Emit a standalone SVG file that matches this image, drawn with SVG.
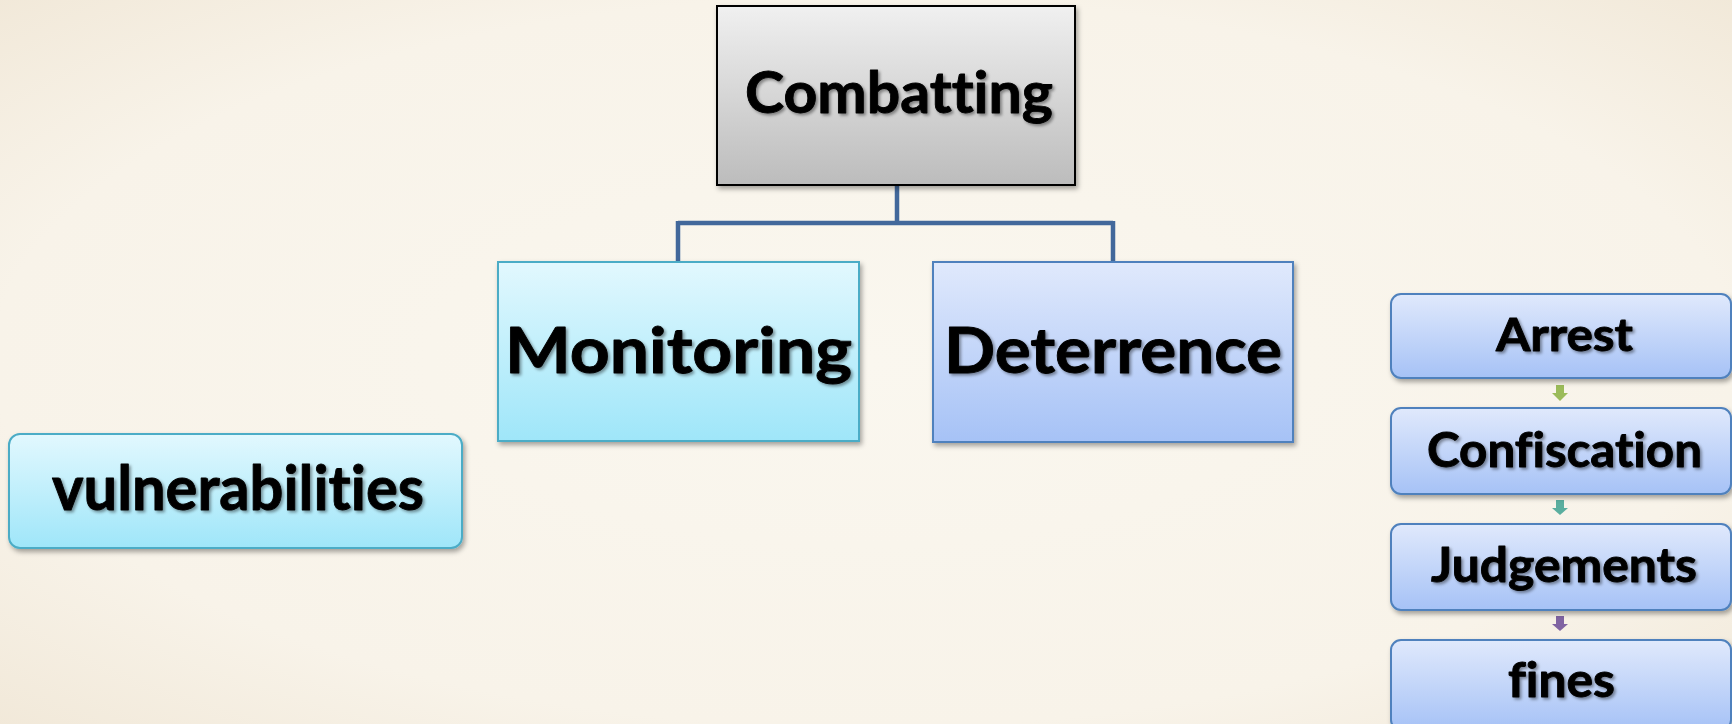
<svg xmlns="http://www.w3.org/2000/svg" width="1732" height="724" viewBox="0 0 1732 724">
<defs>
<radialGradient id="bg" cx="0.5" cy="0.5" r="0.72">
<stop offset="0" stop-color="#faf7ef"/>
<stop offset="0.7" stop-color="#f8f3e9"/>
<stop offset="1" stop-color="#f1e8d8"/>
</radialGradient>
<linearGradient id="gGrey" x1="0" y1="0" x2="0" y2="1">
<stop offset="0" stop-color="#f0f0f0"/>
<stop offset="1" stop-color="#bcbcbc"/>
</linearGradient>
<linearGradient id="gCyan" x1="0" y1="0" x2="0" y2="1">
<stop offset="0" stop-color="#e2f8fe"/>
<stop offset="1" stop-color="#9fe6f9"/>
</linearGradient>
<linearGradient id="gBlue" x1="0" y1="0" x2="0" y2="1">
<stop offset="0" stop-color="#e0e9fc"/>
<stop offset="1" stop-color="#a6c2f6"/>
</linearGradient>
<filter id="boxShadow" x="-10%" y="-10%" width="125%" height="130%">
<feDropShadow dx="2" dy="3" stdDeviation="2.5" flood-color="#000" flood-opacity="0.35"/>
</filter>
<filter id="txtShadow" x="-5%" y="-10%" width="115%" height="130%">
<feDropShadow dx="2" dy="2" stdDeviation="1.5" flood-color="#000" flood-opacity="0.4"/>
</filter>
</defs>
<style>
.lbl{font-family:Lato,"Liberation Sans",sans-serif;font-weight:700;fill:#000;stroke:#000;stroke-width:0.9;stroke-linejoin:round;text-anchor:middle;font-variant-ligatures:none;font-feature-settings:"liga" 0,"clig" 0;filter:url(#txtShadow)}
.grey{fill:url(#gGrey);stroke:#000;stroke-width:2;filter:url(#boxShadow)}
.cyan{fill:url(#gCyan);stroke:#4bacc6;stroke-width:2;filter:url(#boxShadow)}
.blue{fill:url(#gBlue);stroke:#4f81bd;stroke-width:2;filter:url(#boxShadow)}
.conn{fill:none;stroke:#42689b;stroke-width:4.5}
</style>
<rect x="0" y="0" width="1732" height="724" fill="url(#bg)"/>

<g id="connectors">
<path class="conn" d="M897 185 V223 M678 223 H1113 M678 221 V262 M1113 221 V262"/>
<g id="arrow-arrest-confiscation" fill="#9bbb59">
<rect x="1556" y="385" width="8" height="8"/>
<polygon points="1552,393 1568,393 1560,401"/>
</g>
<g id="arrow-confiscation-judgements" fill="#5aae9f">
<rect x="1556" y="500" width="8" height="8"/>
<polygon points="1552,508 1568,508 1560,515"/>
</g>
<g id="arrow-judgements-fines" fill="#8064a2">
<rect x="1556" y="616" width="8" height="8"/>
<polygon points="1552,624 1568,624 1560,631"/>
</g>
</g>

<g id="node-combatting">
<rect class="grey" x="717" y="6" width="358" height="179"/>
<text class="lbl" x="899" y="113" font-size="58" textLength="308" lengthAdjust="spacingAndGlyphs">Combatting</text>
</g>

<g id="node-monitoring">
<rect class="cyan" x="498" y="262" width="361" height="179"/>
<text class="lbl" x="678.5" y="373" font-size="64" textLength="347" lengthAdjust="spacingAndGlyphs">Monitoring</text>
</g>

<g id="node-deterrence">
<rect class="blue" x="933" y="262" width="360" height="180"/>
<text class="lbl" x="1113" y="373" font-size="64" textLength="338" lengthAdjust="spacingAndGlyphs">Deterrence</text>
</g>

<g id="node-vulnerabilities">
<rect class="cyan" x="9" y="434" width="453" height="114" rx="11"/>
<text class="lbl" x="238" y="510" font-size="62" textLength="372" lengthAdjust="spacingAndGlyphs">vulnerabilities</text>
</g>

<g id="node-arrest">
<rect class="blue" x="1391" y="294" width="340" height="84" rx="10"/>
<text class="lbl" x="1564.5" y="351" font-size="46" textLength="137" lengthAdjust="spacingAndGlyphs">Arrest</text>
</g>

<g id="node-confiscation">
<rect class="blue" x="1391" y="408" width="340" height="86" rx="10"/>
<text class="lbl" x="1564.5" y="467" font-size="47" textLength="275" lengthAdjust="spacingAndGlyphs">Confiscation</text>
</g>

<g id="node-judgements">
<rect class="blue" x="1391" y="524" width="340" height="86" rx="10"/>
<text class="lbl" x="1564" y="582" font-size="47" textLength="266" lengthAdjust="spacingAndGlyphs">Judgements</text>
</g>

<g id="node-fines">
<rect class="blue" x="1391" y="640" width="340" height="90" rx="10"/>
<text class="lbl" x="1561.5" y="697" font-size="47" textLength="107" lengthAdjust="spacingAndGlyphs">fines</text>
</g>
</svg>
